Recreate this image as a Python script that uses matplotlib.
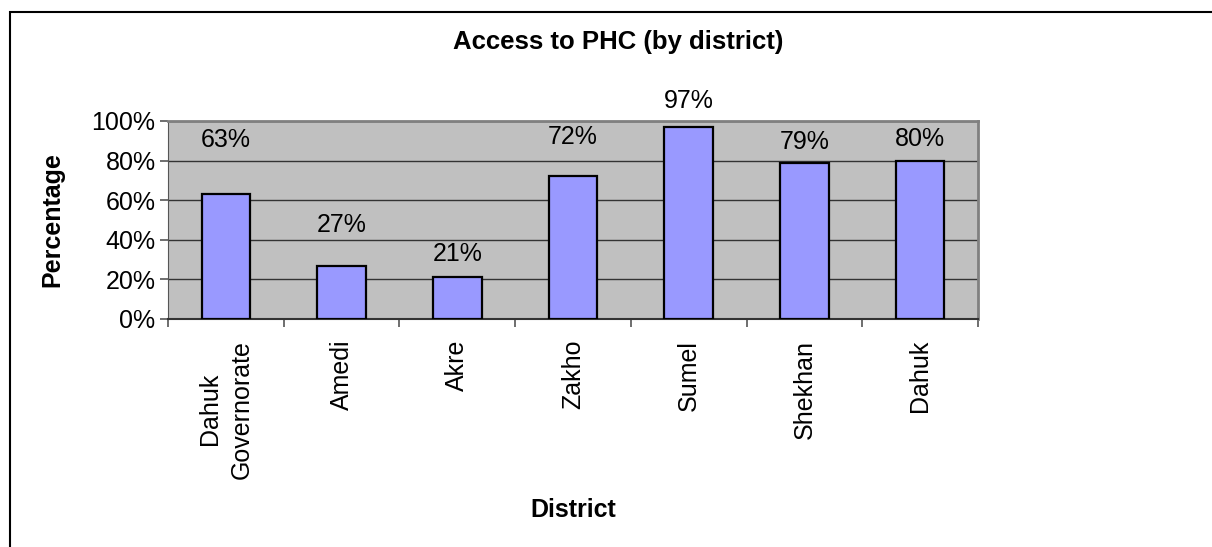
import numpy as np
import matplotlib
matplotlib.use('Agg')
import matplotlib.pyplot as plt
from matplotlib.patches import Rectangle

plt.rcParams['font.family'] = ['Liberation Sans', 'DejaVu Sans']

districts = ['Dahuk\nGovernorate', 'Amedi', 'Akre', 'Zakho', 'Sumel', 'Shekhan', 'Dahuk']
access = [0.63, 0.27, 0.21, 0.72, 0.97, 0.79, 0.80]
labels = ['63%', '27%', '21%', '72%', '97%', '79%', '80%']
label_gap = [54, 41, 23, 39, 26, 21, 22]  # pixels above bar top, as placed in the original

W, H = 1212, 547
fig = plt.figure(figsize=(W / 100, H / 100), dpi=100)
ax = fig.add_axes([168 / W, 1 - 319 / H, (978 - 168) / W, (319 - 121) / H])

x = np.arange(len(districts))
ax.set_facecolor('#C0C0C0')
ax.bar(x, access, width=0.42, color='#9999FF', edgecolor='black', linewidth=1.6, zorder=3)

ax.set_xlim(-0.5, len(districts) - 0.5)
ax.set_ylim(0, 1)
ax.set_yticks(np.arange(0, 1.01, 0.2))
ax.set_yticklabels([f'{int(round(v * 100))}%' for v in np.arange(0, 1.01, 0.2)], fontsize=18)
ax.yaxis.grid(True, color='#333333', linewidth=1.0, zorder=1)

# category ticks sit on the boundaries, labels in the middle
ax.set_xticks(np.arange(-0.5, len(districts), 1.0))
ax.set_xticklabels([])
ax.set_xticks(x, minor=True)
ax.set_xticklabels(districts, minor=True, rotation=90, fontsize=18,
                   va='top', ha='center', multialignment='center', linespacing=1.4)
ax.tick_params(axis='x', which='minor', length=0, pad=15)
ax.tick_params(axis='x', which='major', length=6, width=1.2, color='#555555')
ax.tick_params(axis='y', length=6, width=1.2, color='#555555', pad=3)

for s in ['top', 'right']:
    ax.spines[s].set_color('#808080')
    ax.spines[s].set_linewidth(2)
ax.spines['left'].set_color('#555555')
ax.spines['bottom'].set_color('#333333')
ax.spines['bottom'].set_linewidth(1.5)

for xi, v, t, g in zip(x, access, labels, label_gap):
    ax.annotate(t, (xi, v), xytext=(0, g), textcoords='offset pixels',
                ha='center', va='center', fontsize=18, annotation_clip=False)

ax.set_ylabel('Percentage', fontsize=18, fontweight='bold', va='center')
ax.set_xlabel('District', fontsize=18, fontweight='bold', va='center')
ax.xaxis.set_label_coords(0.5, -(510 - 319) / (319 - 121))
ax.yaxis.set_label_coords(-(168 - 52) / (978 - 168), 0.5)

fig.text(618 / W, 1 - 42 / H, 'Access to PHC (by district)', fontsize=18.5,
         fontweight='bold', ha='center', va='center')

fig.patches.append(Rectangle((10 / W, -0.1), 1.2, 1.1 - 12 / H, transform=fig.transFigure,
                             fill=False, edgecolor='black', linewidth=1.5))

fig.savefig('out.png', dpi=100)
